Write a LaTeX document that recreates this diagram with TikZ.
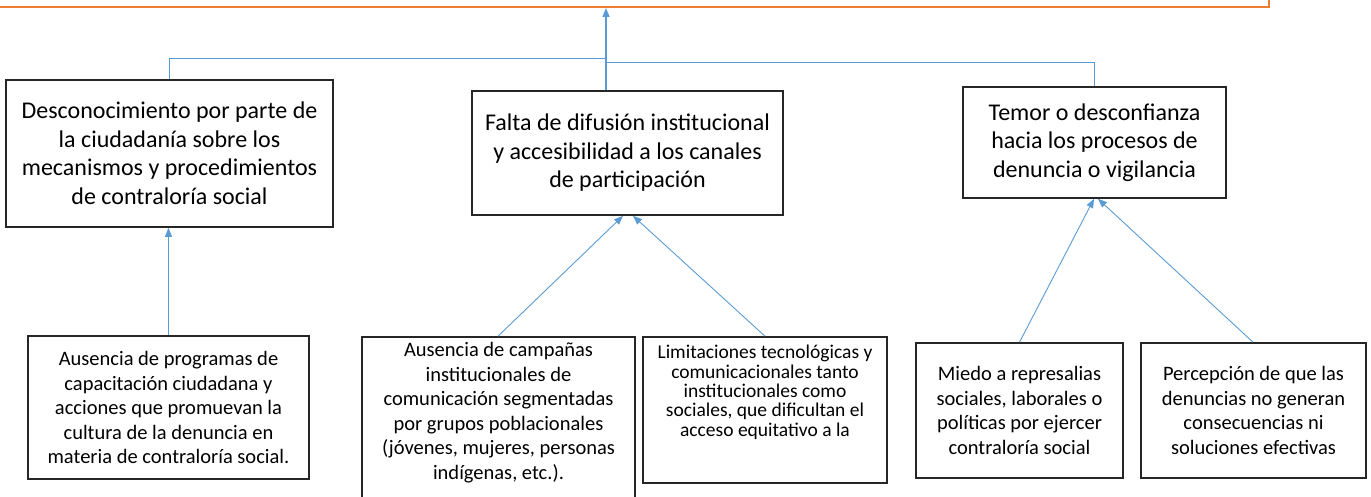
\documentclass[tikz,border=0pt]{standalone}
\usepackage{fontspec}
\setmainfont{Carlito}
\usetikzlibrary{arrows.meta}
\definecolor{orng}{HTML}{ED7D31}
\definecolor{blu}{HTML}{5B9BD5}
\begin{document}
\begin{tikzpicture}[x=1pt,y=-1pt,
  box/.style={draw=black!85,line width=1.6pt,inner sep=0pt,rectangle},
  bigtxt/.style={align=center,inner sep=0pt,font=\fontsize{24}{28.5}\selectfont},
  smtxt/.style={align=center,inner sep=0pt,font=\fontsize{20.5}{24.5}\selectfont},
  tinytxt/.style={align=center,inner sep=0pt,font=\fontsize{19.5}{19.3}\selectfont},
  con/.style={draw=blu,line width=0.9pt},
  arr/.style={con,-{Triangle[length=9pt,width=7pt]}}]
\useasboundingbox (0,0) rectangle (1371,497);
\clip (0,0) rectangle (1371,497);
% top (effect) box, mostly outside the picture
\node[draw=orng,line width=1.8pt,minimum width=1300pt,minimum height=80pt,inner sep=0pt,anchor=south east] (top) at (1270,8) {};
% causes
\node[box,minimum width=327pt,minimum height=147pt] (d1) at (169.5,153.5) {};
\node[bigtxt] at (d1.center) {Desconocimiento por parte de\\la ciudadanía sobre los\\mecanismos y procedimientos\\de contraloría social};
\node[box,minimum width=311pt,minimum height=124pt] (d2) at (627.5,153) {};
\node[bigtxt] at (d2.center) {Falta de difusión institucional\\y accesibilidad a los canales\\de participación};
\node[box,minimum width=263pt,minimum height=111pt] (d3) at (1094.5,142.5) {};
\node[bigtxt] at (d3.center) {Temor o desconfianza\\hacia los procesos de\\denuncia o vigilancia};
% sub-causes
\node[box,minimum width=281pt,minimum height=143pt] (c1) at (168.5,407.5) {};
\node[smtxt] at (c1.center) {Ausencia de programas de\\capacitación ciudadana y\\acciones que promuevan la\\cultura de la denuncia en\\materia de contraloría social.};
\node[box,minimum width=273pt,minimum height=183pt] (c2) at (498.5,428.5) {};
\node[smtxt,anchor=north] at ([yshift=-6pt]c2.north) {Ausencia de campañas\\institucionales de\\comunicación segmentadas\\por grupos poblacionales\\(jóvenes, mujeres, personas\\indígenas, etc.).};
\node[box,minimum width=244pt,minimum height=146pt] (c3) at (765,410) {};
\node[tinytxt,anchor=north] at ([yshift=-9pt]c3.north) {Limitaciones tecnológicas y\\comunicacionales tanto\\institucionales como\\sociales, que dificultan el\\acceso equitativo a la};
\node[box,minimum width=207pt,minimum height=135pt] (c4) at (1019.5,410.5) {};
\node[smtxt] at (c4.center) {Miedo a represalias\\sociales, laborales o\\políticas por ejercer\\contraloría social};
\node[box,minimum width=225pt,minimum height=135pt] (c5) at (1253.5,410.5) {};
\node[smtxt] at (c5.center) {Percepción de que las\\denuncias no generan\\consecuencias ni\\soluciones efectivas};
% junction
\coordinate (jx) at (606,8);
\coordinate (jl) at (606,58);
\coordinate (jr) at (606,62);
% connectors to top
\draw[con] (d1.north) |- (jl);
\draw[con] (d3.north) |- (jr);
\draw[arr,line width=1.3pt] (d2.north -| jx) -- (jx);
% connectors from sub-causes
\draw[arr] (c1.north) -- (c1.north |- d1.south);
\draw[arr] ([xshift=-0.5pt]c2.north) -- ([xshift=-4.5pt]d2.south);
\draw[arr] (c3.north) -- ([xshift=5.5pt]d2.south);
\draw[arr] (c4.north) -- ([xshift=-0.5pt]d3.south);
\draw[arr] ([xshift=-0.5pt]c5.north) -- ([xshift=3.5pt]d3.south);
\end{tikzpicture}
\end{document}
